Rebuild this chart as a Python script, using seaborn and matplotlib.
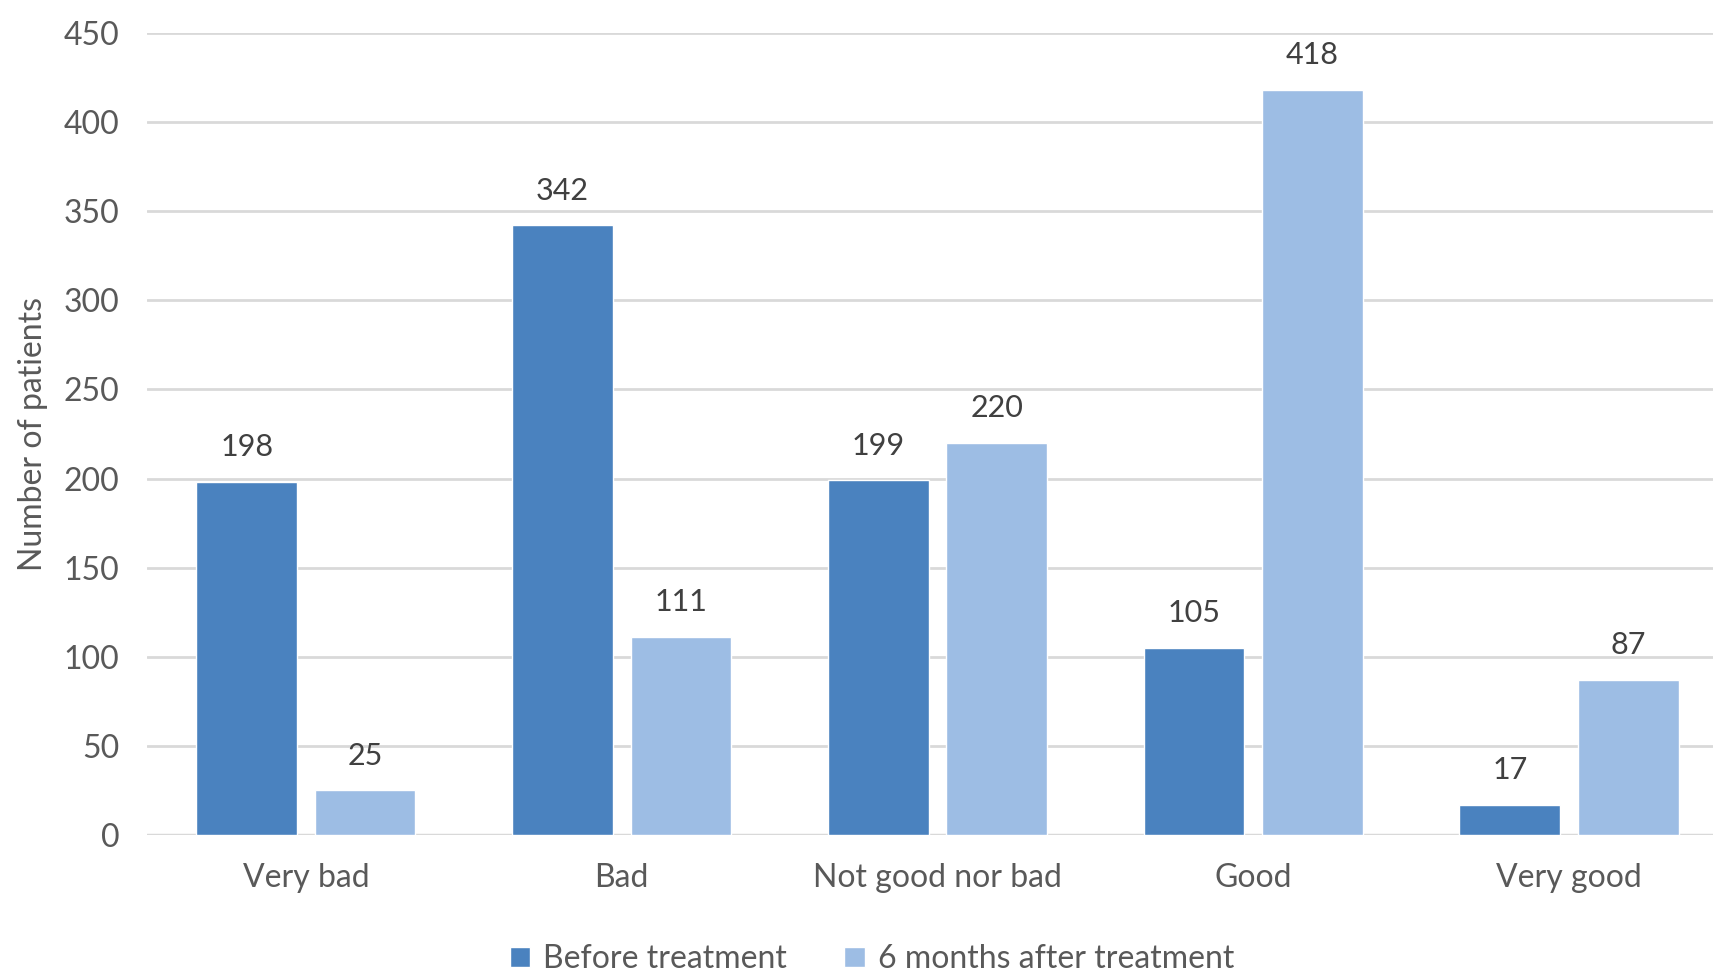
import matplotlib
matplotlib.use("Agg")
import matplotlib.pyplot as plt
import seaborn as sns
import pandas as pd

categories = ["Very bad", "Bad", "Not good nor bad", "Good", "Very good"]
before_treatment = [198, 342, 199, 105, 17]
after_treatment = [25, 111, 220, 418, 87]
series_names = ["Before treatment", "6 months after treatment"]
y_ticks = [0, 50, 100, 150, 200, 250, 300, 350, 400, 450]

df = pd.DataFrame({
    "Category": categories * 2,
    "Patients": before_treatment + after_treatment,
    "Series": [series_names[0]] * len(categories) + [series_names[1]] * len(categories),
})

sns.set_theme(style="white")
plt.rcParams["font.family"] = ["Lato", "DejaVu Sans"]

fig = plt.figure(figsize=(17.13, 9.71), dpi=100)
ax = fig.add_axes([147 / 1713, 1 - 835 / 971, 1 - 147 / 1713, (835 - 33) / 971])

palette = {series_names[0]: "#4a82bf", series_names[1]: "#9dbde4"}
sns.barplot(data=df, x="Category", y="Patients", hue="Series", order=categories,
            hue_order=series_names, palette=palette, width=0.75, gap=0.15,
            saturation=1, ax=ax, legend=True)

for cont in ax.containers:
    ax.bar_label(cont, padding=15, fontsize=22, color="#404040")

ax.set_ylim(0, 450)
ax.set_yticks(y_ticks)
ax.set_xlim(-0.503, 4.456)
ax.yaxis.grid(True, color="#d9d9d9", linewidth=2)
ax.set_axisbelow(True)
for s in ax.spines.values():
    s.set_visible(False)
ax.axhline(0, color="#d9d9d9", linewidth=2.5, zorder=0.5)

ax.tick_params(axis="y", labelsize=23, labelcolor="#595959", pad=20, length=0)
ax.tick_params(axis="x", labelsize=23, labelcolor="#595959", pad=20, length=0)
ax.set_xlabel("")
ax.set_ylabel("Number of patients", fontsize=23, color="#595959")
ax.yaxis.set_label_coords(-0.063, 0.5)

handles, labels = ax.get_legend_handles_labels()
ax.get_legend().remove()
fig.legend(handles, labels, loc="center", bbox_to_anchor=(0.509, 0.012), ncol=2,
           frameon=False, fontsize=23, labelcolor="#595959", handlelength=0.65,
           handleheight=0.6, handletextpad=0.4, columnspacing=1.8)

fig.savefig("out.png", dpi=100)
